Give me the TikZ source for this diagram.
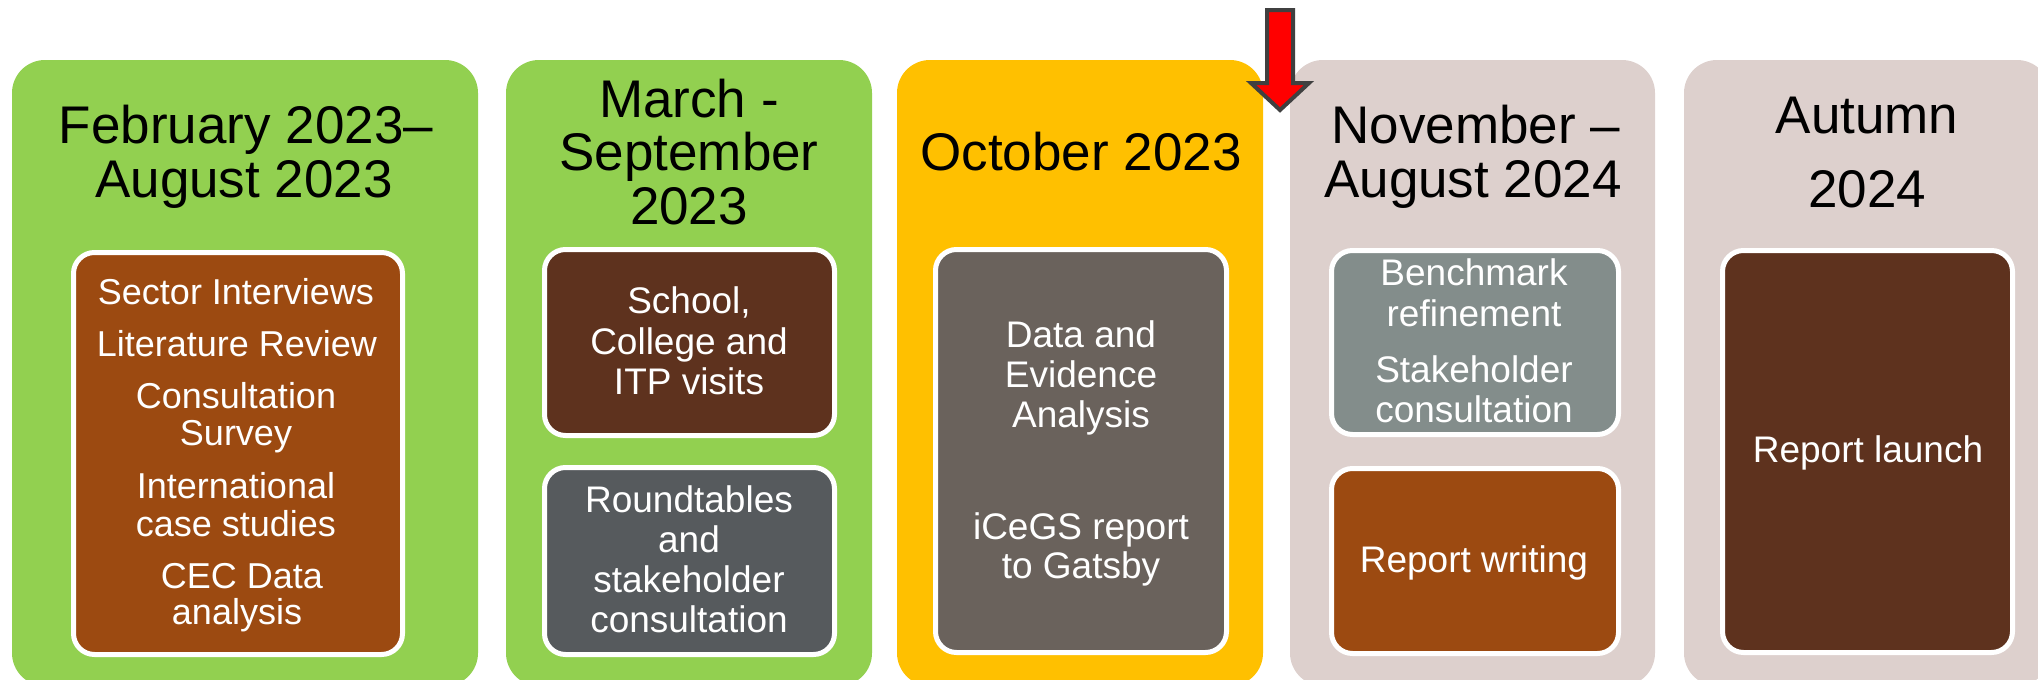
\documentclass[tikz,border=0pt]{standalone}
\usepackage{fontspec}
\setmainfont{Liberation Sans}
\definecolor{pgreen}{HTML}{92D050}
\definecolor{porange}{HTML}{FFC000}
\definecolor{ppale}{HTML}{DDD0CD}
\definecolor{sbrown}{HTML}{9C4A11}
\definecolor{sdark}{HTML}{5E321E}
\definecolor{sslate}{HTML}{565A5D}
\definecolor{staupe}{HTML}{6A625C}
\definecolor{sgrey}{HTML}{838D8B}
\definecolor{arrowedge}{HTML}{404040}
\begin{document}
\begin{tikzpicture}[x=1pt,y=-1pt,
  period/.style={rectangle, rounded corners=33pt, anchor=north west, inner sep=0pt, outer sep=0pt},
  stagebox/.style={rectangle, draw=white, line width=5pt, rounded corners=21pt, inner sep=0pt},
  heading/.style={anchor=base, inner sep=0pt, font=\fontsize{53}{53}\selectfont, text=black},
  item/.style={anchor=base, inner sep=0pt, font=\fontsize{37}{40}\selectfont, text=white},
  smallitem/.style={item, font=\fontsize{36}{38}\selectfont},
]
\useasboundingbox (0,0) rectangle (2038,680);
\clip (0,0) rectangle (2038,680);

% period panels
\node[period, fill=pgreen,  minimum width=466pt, minimum height=626pt] (p1) at (12,60) {};
\node[period, fill=pgreen,  minimum width=366pt, minimum height=626pt] (p2) at (506,60) {};
\node[period, fill=porange, minimum width=366pt, minimum height=626pt] (p3) at (897,60) {};
\node[period, fill=ppale,   minimum width=365pt, minimum height=626pt] (p4) at (1290,60) {};
\node[period, fill=ppale,   minimum width=366pt, minimum height=626pt] (p5) at (1684,60) {};

% headings
\node[heading] (h1a) at (246,143) {February 2023–};
\node[heading] (h1b) at (244,197) {August 2023};
\node[heading] (h2a) at (689,117) {March -};
\node[heading] (h2b) at (689,170) {September};
\node[heading] (h2c) at (689,224) {2023};
\node[heading] (h3a) at (1081,170) {October 2023};
\node[heading] (h4a) at (1476,143) {November –};
\node[heading] (h4b) at (1473,197) {August 2024};
\node[heading] (h5a) at (1867,133) {Autumn};
\node[heading] (h5b) at (1867,207) {2024};

% activity boxes
\node[stagebox, fill=sbrown, minimum width=329pt, minimum height=402pt] (s1)  at (238,453.5) {};
\node[stagebox, fill=sdark,  minimum width=290pt, minimum height=186pt] (s2a) at (689.5,342.5) {};
\node[stagebox, fill=sslate, minimum width=290pt, minimum height=187pt] (s2b) at (689.5,561) {};
\node[stagebox, fill=staupe, minimum width=291pt, minimum height=403pt] (s3)  at (1081,451) {};
\node[stagebox, fill=sgrey,  minimum width=287pt, minimum height=184pt] (s4a) at (1475,342.5) {};
\node[stagebox, fill=sbrown, minimum width=287pt, minimum height=185pt] (s4b) at (1475,561) {};
\node[stagebox, fill=sdark,  minimum width=290pt, minimum height=402pt] (s5)  at (1867.5,451.5) {};

% activity texts
\node[smallitem] (a1) at (236,304) {Sector Interviews};
\node[smallitem] (a2) at (237,356) {Literature Review};
\node[smallitem] (a3) at (236,408) {Consultation};
\node[smallitem] (a4) at (236,445) {Survey};
\node[smallitem] (a5) at (236,498) {International};
\node[smallitem] (a6) at (236,536) {case studies};
\node[smallitem] (a7) at (242,588) {CEC Data};
\node[smallitem] (a8) at (237,624) {analysis};

\node[item] (b1) at (689,313) {School,};
\node[item] (b2) at (689,354) {College and};
\node[item] (b3) at (689,394) {ITP visits};
\node[item] (c1) at (689,512) {Roundtables};
\node[item] (c2) at (689,552) {and};
\node[item] (c3) at (689,592) {stakeholder};
\node[item] (c4) at (689,632) {consultation};

\node[item] (d1) at (1081,347) {Data and};
\node[item] (d2) at (1081,387) {Evidence};
\node[item] (d3) at (1081,427) {Analysis};
\node[item] (d4) at (1081,539) {iCeGS report};
\node[item] (d5) at (1081,578) {to Gatsby};

\node[item] (e1) at (1474,285) {Benchmark};
\node[item] (e2) at (1474,326) {refinement};
\node[item] (e3) at (1474,382) {Stakeholder};
\node[item] (e4) at (1474,422) {consultation};
\node[item] (f1) at (1474,572) {Report writing};

\node[item] (g1) at (1868,462) {Report launch};

% marker arrow between October and November
\draw[fill=red, draw=arrowedge, line width=4pt, line join=miter]
  (1267,10) -- (1293,10) -- (1293,83) -- (1309,83) -- (1280,110)
  -- (1251,83) -- (1267,83) -- cycle;
\end{tikzpicture}
\end{document}
